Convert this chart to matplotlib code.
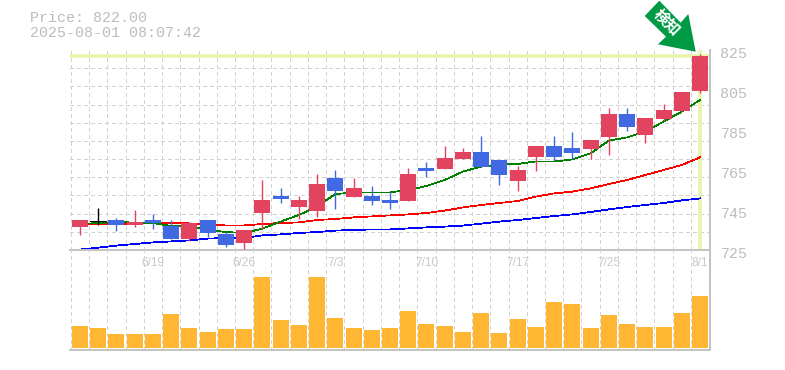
import matplotlib
matplotlib.use('Agg')
import matplotlib.pyplot as plt
from matplotlib.patches import Polygon
from matplotlib.transforms import ScaledTranslation, Affine2D
import numpy as np

# daily prices, one row per session
opens = [736.5, 739.7, 740, 737.5, 740, 737, 730.5, 740, 733, 728.5, 743.5, 752,
         746.5, 744.5, 761, 751.5, 752, 750, 749.5, 766, 765.5, 770.5, 774, 770,
         759.5, 771.5, 777, 776, 775.5, 781.5, 793, 782.5, 790.5, 794.5, 804.5]
closes = [740, 739.7, 737.5, 739, 738.5, 730.5, 738.3, 733.5, 727.5, 735, 750, 750.5,
          750, 758, 754.5, 756, 749.5, 748.5, 763, 764.5, 771, 774, 766.5, 762.5,
          765, 777, 771.5, 773.5, 780, 793, 786.5, 791, 795, 804, 822]
highs = [740, 746, 741, 745, 743, 740, 739, 740, 734, 735, 760, 756,
         752, 763, 765, 761, 757, 754, 766, 769, 777, 776, 782, 770,
         767, 777, 782, 784, 780, 796, 796, 791, 798, 804, 823]
lows = [732.5, 737.7, 734.5, 736.5, 735.5, 730.5, 729.5, 731.5, 726.5, 725.5, 735.5, 748.5,
        740.5, 741.5, 745.5, 751.5, 747.5, 745.5, 749.5, 761.5, 765.5, 770.5, 766.5, 757.5,
        754.5, 764.5, 769.5, 770.5, 770.5, 772.5, 784.5, 778.5, 789.5, 794.5, 803.5]
ma_short = [738, 738.5, 739, 738.7, 738.5, 737, 737, 735, 734, 733.5, 735.7, 739.2,
            742.5, 746.7, 753, 753.7, 753.8, 753.8, 755, 757, 760, 764.2, 766.7, 767.7,
            768, 769.3, 769.2, 770.3, 773.3, 779.7, 781.3, 784.2, 789.2, 794.2, 800]
ma_mid = [738, 738, 738, 738.3, 738.8, 738.5, 738.3, 737.5, 737.3, 737.3, 738, 738.5,
          738.8, 740, 740.5, 741.3, 741.8, 742.3, 742.8, 743.5, 744.7, 746.3, 747.5, 748.5,
          749.5, 751.7, 753.3, 754.2, 755.8, 758, 760, 762.5, 765, 767.5, 771.3]
ma_long = [725.2, 726.2, 727.2, 728, 728.8, 729.3, 729.8, 730.7, 731, 731, 732.3, 732.8,
           733.5, 734, 734.7, 735, 735.3, 735.3, 735.8, 736.3, 736.7, 737.2, 738.2, 739.2,
           740, 741, 742, 742.8, 744, 745.3, 746.5, 747.5, 748.5, 749.8, 750.8]
volumes = [22, 20, 14, 14, 14, 34, 20, 16, 19, 19, 71, 28, 23, 71, 30, 20, 18, 20,
           37, 24, 22, 16, 35, 15, 29, 21, 46, 44, 20, 33, 24, 21, 21, 35, 52]
price_ticks = [725, 745, 765, 785, 805, 825]
date_pos = [4, 9, 14, 19, 24, 29, 34]
date_labels = ['6/19', '6/26', '7/3', '7/10', '7/17', '7/25', '8/1']
last_price = 822

UP = '#E2445F'
DOWN = '#4169E1'
GRID = '#D2D2D2'
AXIS = '#C4C4C4'
TEXT = '#BDBDBD'
HILITE = '#E6F5A9'
W, H = 785, 370
PX = 0.72  # one pixel in points at dpi 100


def add_ax(top, bottom):
    # pixel box to figure fractions
    ax = fig.add_axes([70 / W, 1 - bottom / H, 640 / W, (bottom - top) / H])
    ax.set_xlim(-0.548, 34.548)
    ax.patch.set_alpha(0)
    for side in ['left', 'top']:
        ax.spines[side].set_visible(False)
    for side in ['right', 'bottom']:
        ax.spines[side].set_color(AXIS)
        ax.spines[side].set_linewidth(2 * PX)
    ax.set_axisbelow(True)
    edges = np.arange(len(opens) + 1) - 0.5
    ax.set_xticks(edges, minor=True)
    ax.grid(which='minor', axis='x', color=GRID, lw=PX, ls=(0, (3, 3)), antialiased=False)
    ax.tick_params(which='both', length=0)
    ax.set_yticks([])
    return ax


fig = plt.figure(figsize=(W / 100, H / 100), dpi=100)
ax = add_ax(50, 250)
ax_vol = add_ax(250, 350)
x = np.arange(len(opens))

# price panel
ax.set_ylim(725, 825)
ax.set_yticks(np.linspace(725, 825, 12), minor=True)
ax.grid(which='minor', axis='y', color=GRID, lw=PX, ls=(0, (3, 3)), antialiased=False)
ax.axhline(last_price, color=HILITE, lw=3.6 * PX, zorder=1)
ax.axvline(x[-1], color=HILITE, lw=3.6 * PX, zorder=1)
ax.plot(x, ma_long, color='#0000FF', lw=0.55, zorder=2, antialiased=False)
ax.plot(x, ma_mid, color='#FF0000', lw=0.55, zorder=2, antialiased=False)
ax.plot(x, ma_short, color='#007F00', lw=0.55, zorder=2, antialiased=False)

for i in x:
    o, c = opens[i], closes[i]
    col = 'black' if o == c else (UP if c > o else DOWN)
    ax.plot([i, i], [lows[i], highs[i]], color=col, lw=1.0, zorder=3,
            solid_capstyle='butt')
    if o == c:
        ax.plot([i - 0.44, i + 0.44], [o, o], color=col, lw=PX, zorder=3, antialiased=False,
                solid_capstyle='butt')
    else:
        ax.bar(i, abs(c - o), bottom=min(o, c), width=16 / 18.235, color=col,
               zorder=4, antialiased=False)

# y labels sit a bit under their level in the original
ax.set_yticks(price_ticks)
ax.yaxis.tick_right()
ax.tick_params(axis='y', which='major', length=0, pad=7.5, labelcolor=TEXT, labelsize=10.8)
shift = ScaledTranslation(0, -3 / 100, fig.dpi_scale_trans)
for lab in ax.get_yticklabels():
    lab.set_family('Liberation Mono')
    lab.set_transform(lab.get_transform() + shift)

ax.set_xticks(date_pos)
ax.set_xticklabels(date_labels, family='Liberation Sans', fontsize=8.6, color='#C8C8C8')
ax.tick_params(axis='x', which='major', length=0, pad=5)

# volume panel
ax_vol.set_ylim(-2.3, 98)
ax_vol.bar(x, volumes, width=16 / 18.235, color='#FFB733', zorder=3, antialiased=False)
ax_vol.set_xticks([])

# header
for txt, ypx in [('Price: 822.00', 18), ('2025-08-01 08:07:42', 33)]:
    fig.text(30 / W, 1 - ypx / H, txt, family='Liberation Mono', fontsize=10.8,
             color=TEXT, va='center', ha='left')

# arrow marker, offsets in px from its tip
arrow = np.array([(-36.4, -51), (-15, -29), (-7.4, -37.7), (0, 0), (-37.7, -7.4),
                  (-29.7, -15), (-51, -35.7)])
tip_x = 695.7
tip_y = 51.7
pts = np.column_stack([tip_x + arrow[:, 0], H - (tip_y + arrow[:, 1])])
fig.add_artist(Polygon(pts, closed=True, facecolor='#009944', edgecolor='none',
                       transform=Affine2D().scale(1), zorder=10))
fig.text(667 / W, 1 - 22.5 / H, '検知', family=['Noto Sans CJK JP', 'DejaVu Sans'],
         fontsize=11, fontweight='bold', color='white', rotation=-45,
         rotation_mode='anchor', ha='center', va='center', zorder=11)

fig.savefig('out.png', dpi=100)
